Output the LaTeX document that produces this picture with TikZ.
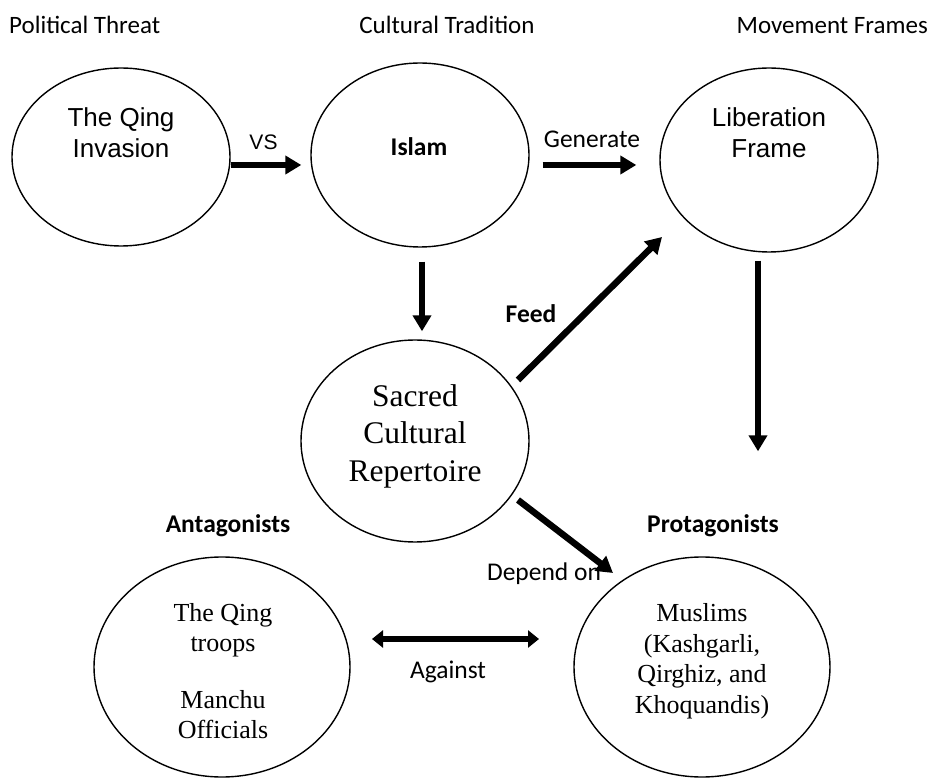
\documentclass[tikz,border=0pt]{standalone}
\usepackage{fontspec}
\setmainfont{Liberation Serif}
\newfontfamily\calibri{Carlito}
\newfontfamily\arial{Liberation Sans}
\usetikzlibrary{shapes.geometric,arrows.meta,calc}

\begin{document}
\begin{tikzpicture}[x=1pt,y=-1pt,
  bubble/.style={draw, line width=1.4pt, ellipse, inner sep=0pt},
  arr/.style={line width=6.5pt, -{Triangle[width=18pt,length=16pt]}},
  darr/.style={line width=6.5pt, {Triangle[width=17pt,length=11pt]}-{Triangle[width=17pt,length=11pt]}},
  hdr/.style={font=\calibri\fontsize{25}{30}\selectfont, inner sep=0pt},
  lbl/.style={font=\calibri\fontsize{25.5}{30}\selectfont, inner sep=0pt, anchor=base},
  lblb/.style={font=\calibri\bfseries\fontsize{25.5}{30}\selectfont, inner sep=0pt, anchor=base},
  sanstxt/.style={font=\arial\fontsize{26}{31}\selectfont, align=center, inner sep=0pt},
  serifbig/.style={font=\fontsize{31.5}{37.5}\selectfont, align=center, inner sep=0pt},
  seriftxt/.style={font=\fontsize{26}{30.5}\selectfont, align=center, inner sep=0pt}
]
\useasboundingbox[fill=white] (0,0) rectangle (938,783);

% column headings
\node[hdr, anchor=base west] (h1) at (9,34) {Political Threat};
\node[hdr, anchor=base] (h2) at (447,34) {Cultural Tradition};
\node[hdr, anchor=base east] (h3) at (928,34) {Movement Frames};

% ellipses
\node[bubble, minimum width=218pt, minimum height=178pt] (qing) at (121,157) {};
\node[bubble, minimum width=218pt, minimum height=184pt] (islam) at (420,155) {};
\node[bubble, minimum width=218pt, minimum height=184pt] (lib) at (769,160) {};
\node[bubble, minimum width=228pt, minimum height=202pt] (sacred) at (415,441) {};
\node[bubble, minimum width=256pt, minimum height=220pt] (antag) at (222,667) {};
\node[bubble, minimum width=256pt, minimum height=220pt] (protag) at (702,667) {};

% ellipse contents
\node[sanstxt] (qingtxt) at (121,133) {The Qing\\Invasion};
\node[lblb, anchor=center] (islamtxt) at (419,147) {Islam};
\node[sanstxt] (libtxt) at (769,133) {Liberation\\Frame};
\node[serifbig] (sacredtxt) at (415,436) {Sacred\\Cultural\\Repertoire};
\node[seriftxt] (antagtxt) at (223,671) {The Qing\\troops\\[26pt]Manchu\\Officials};
\node[seriftxt] (protagtxt) at (702,661) {Muslims\\(Kashgarli,\\Qirghiz, and\\Khoquandis)};

% group headings
\node[lblb] (antaghd) at (228,533) {Antagonists};
\node[lblb] (protaghd) at (713,533) {Protagonists};

% connector labels
\node[font=\arial\fontsize{21}{25}\selectfont, inner sep=0pt, anchor=base] (vs) at (263.5,150) {VS};
\node[lbl] (gen) at (592,148) {Generate};
\node[lblb] (feed) at (531,323) {Feed};
\node[lbl] (dep) at (544,581) {Depend on};
\node[lbl] (against) at (448,678) {Against};

% connectors
\draw[arr] ($(qing.east)+(0,8)$) -- ($(islam.west)+(-9,10)$);
\draw[arr] ($(islam.east)+(13,10)$) -- ($(lib.west)+(-23,5)$);
\draw[arr] ($(islam.south)+(2,14)$) -- ($(sacred.north)+(7,-8)$);
\draw[arr] ($(sacred.center)+(103,-61)$) -- ($(lib.center)+(-107,77)$);
\draw[arr] ($(sacred.center)+(103,59)$) -- ($(protag.center)+(-89,-94)$);
\draw[arr] ($(lib.south)+(-11,8)$) -- ($(protag.north)+(56,-105)$);
\draw[darr] ($(antag.center)+(150,-28)$) -- ($(protag.center)+(-163,-28)$);
\end{tikzpicture}
\end{document}
